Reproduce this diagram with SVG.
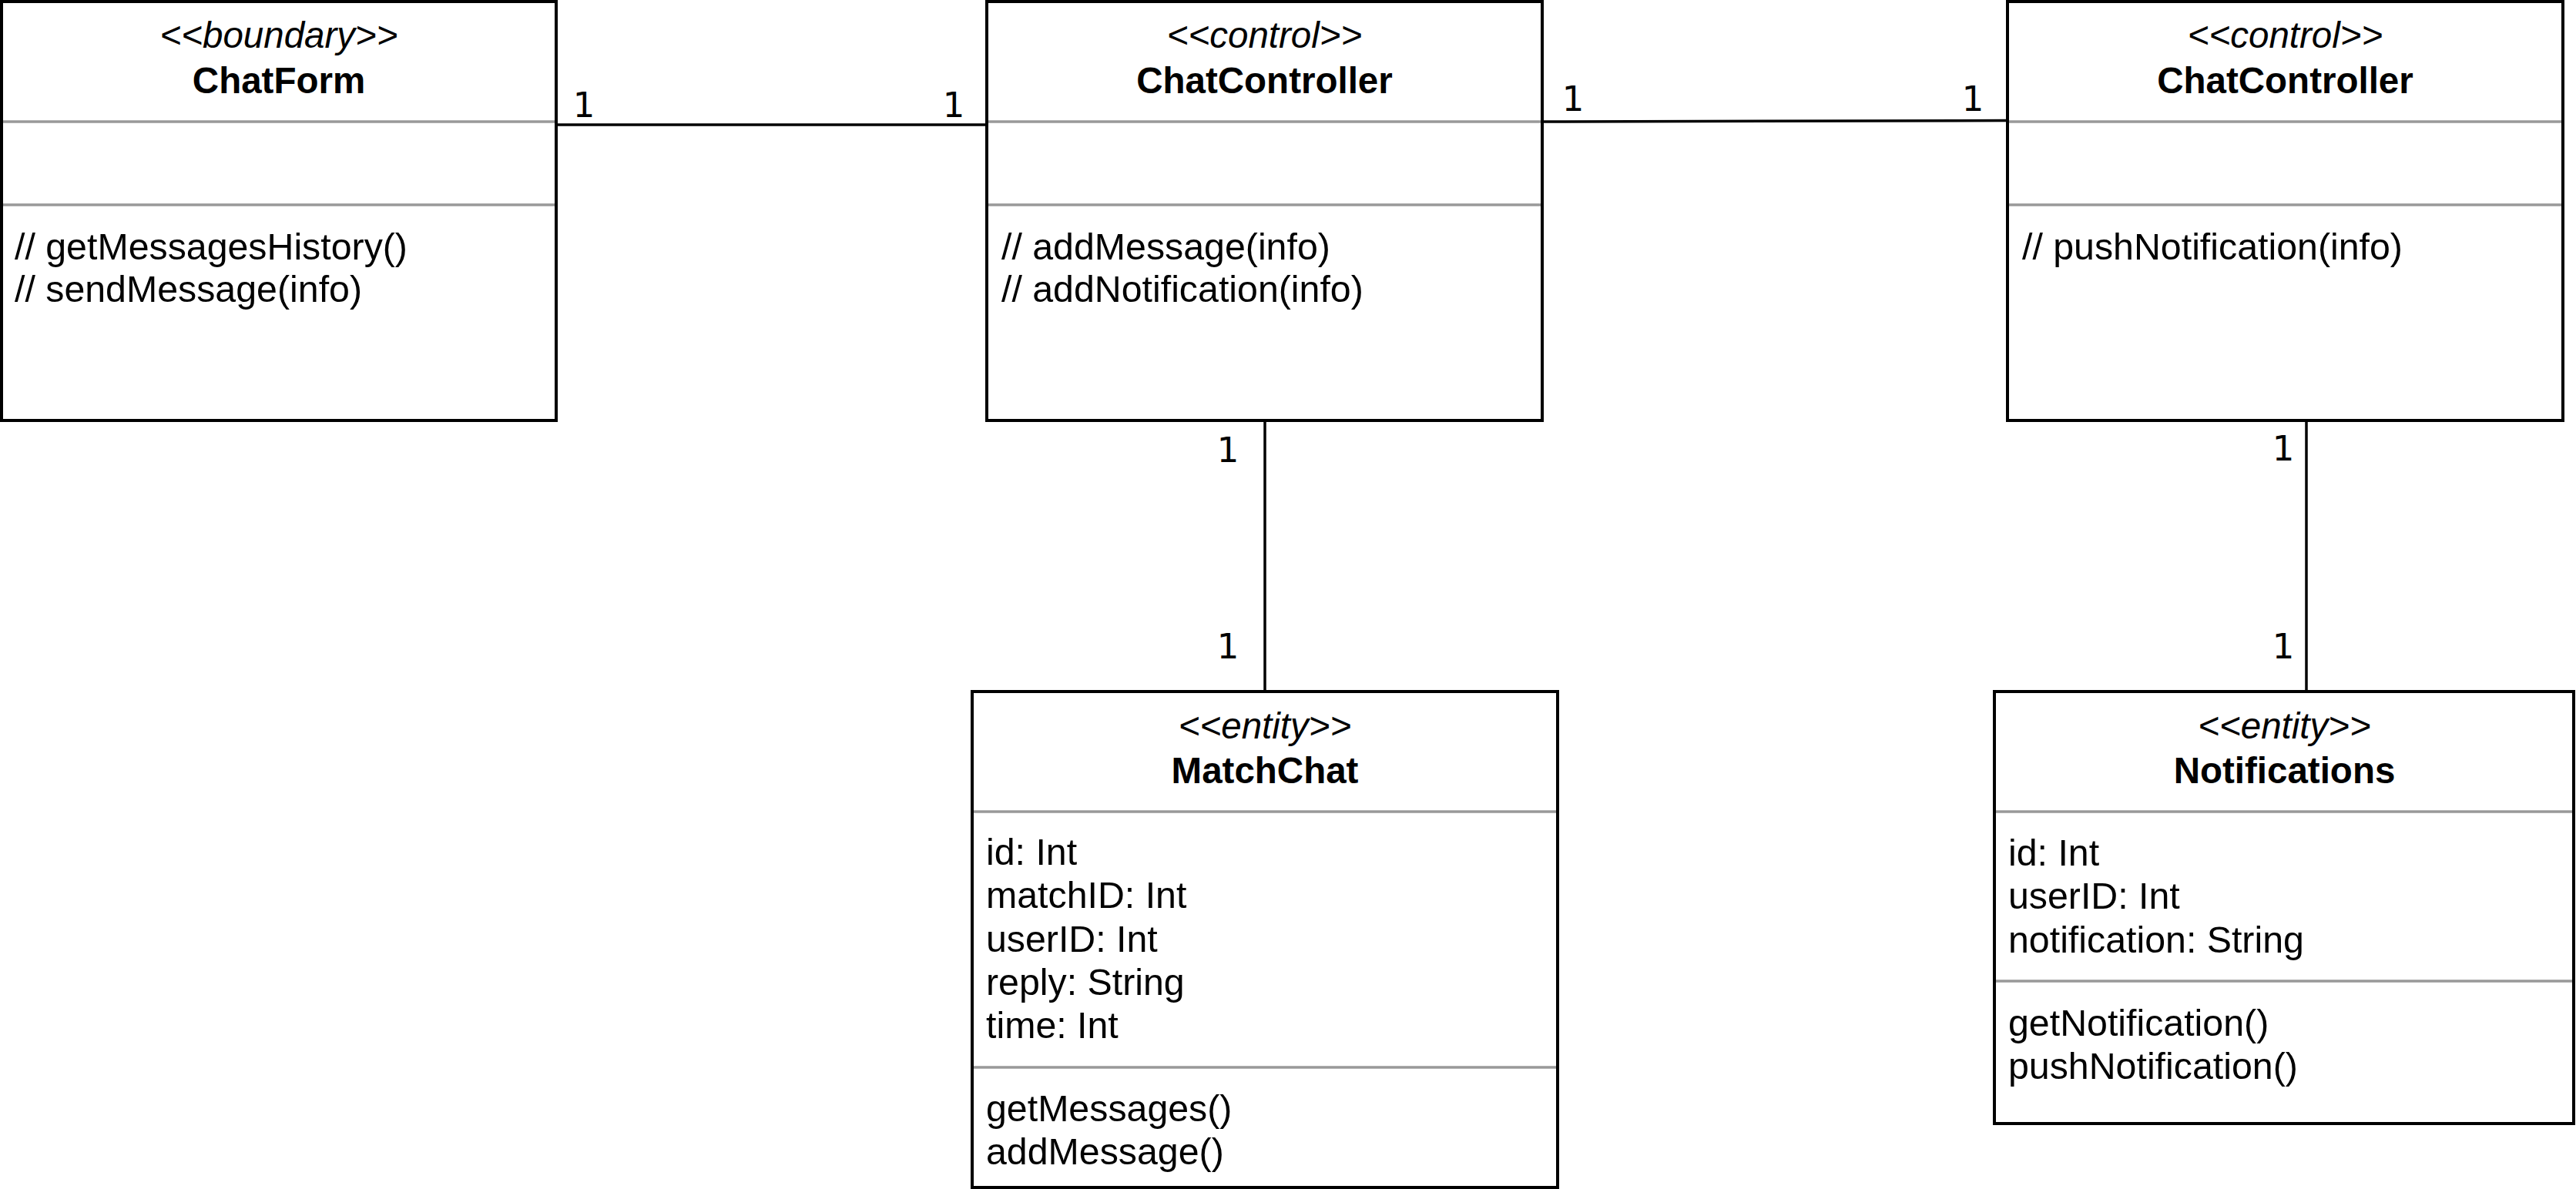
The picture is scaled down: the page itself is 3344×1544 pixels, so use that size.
<svg xmlns="http://www.w3.org/2000/svg" width="3344" height="1544" viewBox="0 0 3344 1544">
  <style>
    .box { fill: #ffffff; stroke: #000000; stroke-width: 4; }
    .sep { stroke: #999999; stroke-width: 3.3; }
    .edge { stroke: #000000; stroke-width: 3.5; fill: none; }
    .stereo { font-family: "Liberation Sans", Arial, sans-serif; font-size: 47.5px; font-style: italic; text-anchor: middle; fill: #000; }
    .name { font-family: "Liberation Sans", Arial, sans-serif; font-size: 47.5px; font-weight: bold; text-anchor: middle; fill: #000; }
    .member { font-family: "Liberation Sans", Arial, sans-serif; font-size: 48.3px; fill: #000; }
    .mult { font-family: "DejaVu Sans", sans-serif; font-size: 45px; text-anchor: middle; fill: #000; }
  </style>
  <rect width="3344" height="1544" fill="#ffffff"/>

  <!-- associations -->
  <g id="connectors">
    <line class="edge" x1="722" y1="162" x2="1281" y2="162"/>
    <line class="edge" x1="2002" y1="158" x2="2610" y2="156.5"/>
    <line class="edge" x1="1642" y1="546" x2="1642" y2="898"/>
    <line class="edge" x1="2994" y1="546" x2="2994" y2="898"/>
    <text class="mult" x="758" y="152">1</text>
    <text class="mult" x="1238" y="152">1</text>
    <text class="mult" x="2042" y="144">1</text>
    <text class="mult" x="2561" y="144">1</text>
    <text class="mult" x="1594" y="600">1</text>
    <text class="mult" x="1594" y="855">1</text>
    <text class="mult" x="2964" y="598">1</text>
    <text class="mult" x="2964" y="855">1</text>
  </g>

  <!-- boundary class -->
  <g id="chatform">
    <rect class="box" x="2" y="2" width="720" height="544"/>
    <line class="sep" x1="4" y1="158" x2="720" y2="158"/>
    <line class="sep" x1="4" y1="266" x2="720" y2="266"/>
    <text class="stereo" x="362" y="62">&lt;&lt;boundary&gt;&gt;</text>
    <text class="name" x="362" y="121">ChatForm</text>
    <text class="member" x="19" y="337">// getMessagesHistory()</text>
    <text class="member" x="19" y="392">// sendMessage(info)</text>
  </g>

  <!-- control class: messages -->
  <g id="chatcontroller-messages">
    <rect class="box" x="1281" y="2" width="721" height="544"/>
    <line class="sep" x1="1283" y1="158" x2="2000" y2="158"/>
    <line class="sep" x1="1283" y1="266" x2="2000" y2="266"/>
    <text class="stereo" x="1641.5" y="62">&lt;&lt;control&gt;&gt;</text>
    <text class="name" x="1641.5" y="121">ChatController</text>
    <text class="member" x="1300" y="337">// addMessage(info)</text>
    <text class="member" x="1300" y="392">// addNotification(info)</text>
  </g>

  <!-- control class: notifications -->
  <g id="chatcontroller-notifications">
    <rect class="box" x="2606" y="2" width="721" height="544"/>
    <line class="sep" x1="2608" y1="158" x2="3325" y2="158"/>
    <line class="sep" x1="2608" y1="266" x2="3325" y2="266"/>
    <text class="stereo" x="2966.5" y="62">&lt;&lt;control&gt;&gt;</text>
    <text class="name" x="2966.5" y="121">ChatController</text>
    <text class="member" x="2625" y="337">// pushNotification(info)</text>
  </g>

  <!-- entity: MatchChat -->
  <g id="matchchat">
    <rect class="box" x="1262" y="898" width="760" height="644"/>
    <line class="sep" x1="1264" y1="1054" x2="2020" y2="1054"/>
    <line class="sep" x1="1264" y1="1386" x2="2020" y2="1386"/>
    <text class="stereo" x="1642" y="959">&lt;&lt;entity&gt;&gt;</text>
    <text class="name" x="1642" y="1017">MatchChat</text>
    <text class="member" x="1280" y="1123">id: Int</text>
    <text class="member" x="1280" y="1179">matchID: Int</text>
    <text class="member" x="1280" y="1236">userID: Int</text>
    <text class="member" x="1280" y="1292">reply: String</text>
    <text class="member" x="1280" y="1348">time: Int</text>
    <text class="member" x="1280" y="1456">getMessages()</text>
    <text class="member" x="1280" y="1512">addMessage()</text>
  </g>

  <!-- entity: Notifications -->
  <g id="notifications">
    <rect class="box" x="2589" y="898" width="752" height="561"/>
    <line class="sep" x1="2591" y1="1054" x2="3339" y2="1054"/>
    <line class="sep" x1="2591" y1="1274" x2="3339" y2="1274"/>
    <text class="stereo" x="2965.5" y="959">&lt;&lt;entity&gt;&gt;</text>
    <text class="name" x="2965.5" y="1017">Notifications</text>
    <text class="member" x="2607" y="1124">id: Int</text>
    <text class="member" x="2607" y="1180">userID: Int</text>
    <text class="member" x="2607" y="1237">notification: String</text>
    <text class="member" x="2607" y="1345">getNotification()</text>
    <text class="member" x="2607" y="1401">pushNotification()</text>
  </g>
</svg>
